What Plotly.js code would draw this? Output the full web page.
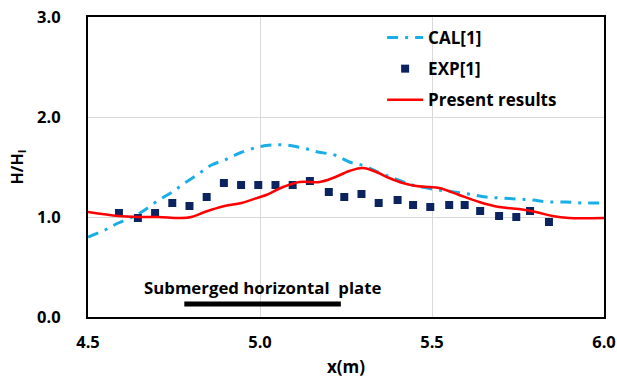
<!DOCTYPE html>
<html>
<head>
<meta charset="utf-8">
<script src="https://cdn.plot.ly/plotly-3.0.1.min.js"></script>
<style>html,body{margin:0;padding:0;background:#fff;}#chart{width:617px;height:380px;}</style>
</head>
<body>
<div id="chart"></div>
<script>
// CAL[1]
var calX = [4.50, 4.549, 4.588, 4.636, 4.665, 4.706, 4.745, 4.781, 4.825, 4.859, 4.897, 4.941, 4.994, 5.033, 5.076, 5.125, 5.168, 5.217, 5.26, 5.304, 5.342, 5.386, 5.425, 5.454, 5.521, 5.607, 5.657, 5.70, 5.748, 5.792, 5.84, 5.889, 5.937, 6.0];
var calY = [0.80, 0.87, 0.94, 1.01, 1.07, 1.17, 1.25, 1.34, 1.44, 1.52, 1.57, 1.64, 1.70, 1.72, 1.72, 1.69, 1.65, 1.62, 1.55, 1.51, 1.45, 1.39, 1.34, 1.31, 1.27, 1.23, 1.20, 1.19, 1.18, 1.17, 1.15, 1.15, 1.14, 1.14];
// EXP[1]
var expX = [4.59, 4.645, 4.695, 4.745, 4.795, 4.845, 4.895, 4.945, 4.995, 5.045, 5.095, 5.145, 5.20, 5.245, 5.295, 5.345, 5.40, 5.445, 5.495, 5.55, 5.595, 5.64, 5.695, 5.745, 5.785, 5.84];
var expY = [1.04, 0.99, 1.04, 1.14, 1.11, 1.20, 1.34, 1.32, 1.32, 1.32, 1.32, 1.36, 1.25, 1.20, 1.23, 1.14, 1.17, 1.12, 1.10, 1.12, 1.12, 1.06, 1.01, 1.00, 1.06, 0.95];
// Present results
var preX = [4.50, 4.588, 4.646, 4.704, 4.767, 4.80, 4.839, 4.897, 4.946, 5.00, 5.018, 5.067, 5.115, 5.173, 5.212, 5.26, 5.299, 5.338, 5.376, 5.415, 5.454, 5.492, 5.521, 5.579, 5.637, 5.695, 5.753, 5.802, 5.85, 5.898, 6.0];
var preY = [1.05, 1.01, 1.00, 1.00, 0.99, 1.00, 1.05, 1.11, 1.14, 1.20, 1.22, 1.30, 1.35, 1.35, 1.39, 1.46, 1.49, 1.45, 1.39, 1.34, 1.31, 1.30, 1.29, 1.22, 1.15, 1.10, 1.08, 1.05, 1.01, 0.99, 0.99];
// Plate annotation
var plateLabel = "Submerged horizontal  plate";
var plateX = [4.78, 5.235];
var plateY = 0.13;
var xTicks = [4.5, 5.0, 5.5, 6.0];
var xTickText = ["4.5", "5.0", "5.5", "6.0"];
var yTicks = [0, 1, 2, 3];
var yTickText = ["0.0", "1.0", "2.0", "3.0"];

var FONT = "Open Sans, Liberation Sans, Arial, sans-serif";

var traces = [
  {x: calX, y: calY, name: "CAL[1]", mode: "lines", line: {color: "#1aaee8", width: 3, dash: "11px,7px,3px,7px", shape: "spline"}, legendgroup: "a"},
  {x: expX, y: expY, name: "EXP[1]", mode: "markers", marker: {symbol: "square", color: "#0b2460", size: 8}, legendgroup: "b"},
  {x: preX, y: preY, name: "Present results", mode: "lines", line: {color: "#ff0000", width: 2.5, shape: "spline"}, legendgroup: "c"}
];

var layout = {
  width: 617, height: 380,
  margin: {l: 88, r: 13, t: 17, b: 63},
  paper_bgcolor: "#fff", plot_bgcolor: "#fff",
  font: {family: FONT, color: "#000"},
  showlegend: true,
  legend: {x: 0.57, y: 0.99, xanchor: "left", yanchor: "top", bgcolor: "rgba(0,0,0,0)", font: {family: FONT, size: 17, color: "#000", weight: "bold"}, tracegroupgap: 6, itemwidth: 36},
  xaxis: {range: [4.5, 6.0], tickvals: xTicks, ticktext: xTickText, showgrid: true, gridcolor: "#d9d9d9", gridwidth: 1,
          showline: true, linecolor: "#000", linewidth: 2, mirror: true, ticks: "", zeroline: false,
          tickfont: {family: FONT, size: 16.5, weight: "bold"}, ticklabelstandoff: 9, ticklabeloverflow: "allow",
          title: {text: "<b>x(m)</b>", font: {family: FONT, size: 17}, standoff: 9}},
  yaxis: {range: [0, 3.0], tickvals: yTicks, ticktext: yTickText, showgrid: true, gridcolor: "#d9d9d9", gridwidth: 1,
          showline: true, linecolor: "#000", linewidth: 2, mirror: true, ticks: "", zeroline: false,
          tickfont: {family: FONT, size: 16.5, weight: "bold"}, ticklabelstandoff: 22, ticklabeloverflow: "allow",
          title: {text: "<b>H/H<sub>I</sub></b>", font: {family: FONT, size: 16}, standoff: 10}},
  shapes: [
    {type: "line", xref: "x", yref: "y", x0: plateX[0], x1: plateX[1], y0: plateY, y1: plateY, line: {color: "#000", width: 5}}
  ],
  annotations: [
    {xref: "x", yref: "y", x: (plateX[0] + plateX[1]) / 2 + 0.0, y: plateY + 0.17, text: "<b>" + plateLabel + "</b>", showarrow: false,
     font: {family: FONT, size: 16.8, color: "#000"}, xanchor: "center", yanchor: "middle"}
  ]
};

Plotly.newPlot("chart", traces, layout, {displayModeBar: false, staticPlot: true});
</script>
</body>
</html>
